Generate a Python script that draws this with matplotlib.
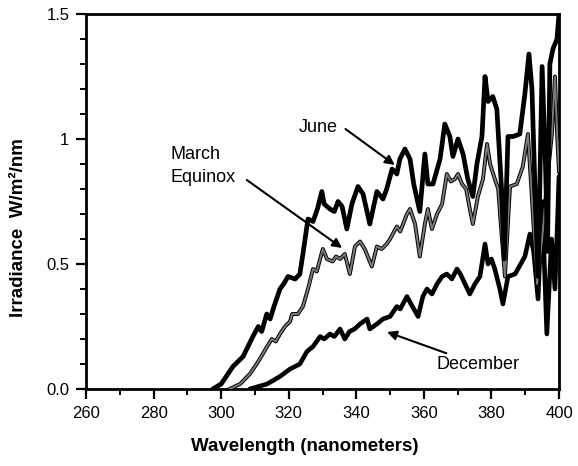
import matplotlib
matplotlib.use("Agg")
import matplotlib.pyplot as plt
from matplotlib.ticker import MultipleLocator, FixedLocator, FixedFormatter

plt.rcParams['font.family'] = ['Liberation Sans', 'DejaVu Sans']

# ---- data ----
june_wl = [297.5, 300, 303.5, 306.5, 309.4, 311, 312, 313.5, 314.5, 315.4, 317.4, 318.5,
           319.8, 321.9, 323.3, 324.2, 325.7, 327.2, 328.5, 329.8, 330.5, 332.2, 333.5,
           334.6, 335.8, 337.2, 338.7, 340.5, 342, 344, 346.1, 347.9, 349, 350.6, 352,
           352.9, 354.4, 355.9, 357, 358.8, 360.3, 361.2, 362.7, 364.8, 366.2, 367.7,
           368.6, 370.1, 371.6, 373, 374.5, 375.7, 377.2, 378.1, 379, 380.4, 381.6, 383,
           383.8, 384.9, 386.4, 388.4, 389.9, 391.1, 392, 393, 393.8, 395, 396, 396.6,
           397.3, 398.2, 399.4, 400]
june_irr = [0.0, 0.02, 0.09, 0.13, 0.21, 0.25, 0.23, 0.30, 0.28, 0.32, 0.40, 0.42,
            0.45, 0.44, 0.46, 0.54, 0.68, 0.67, 0.72, 0.79, 0.74, 0.72, 0.71,
            0.75, 0.73, 0.64, 0.74, 0.81, 0.78, 0.66, 0.79, 0.76, 0.80, 0.88, 0.86,
            0.92, 0.96, 0.92, 0.82, 0.71, 0.94, 0.82, 0.82, 0.92, 1.06, 1.01,
            0.93, 1.00, 0.94, 0.84, 0.77, 0.90, 1.01, 1.25, 1.15, 1.17, 1.12, 0.80,
            0.52, 1.01, 1.01, 1.02, 1.18, 1.34, 1.20, 0.75, 0.45, 1.29, 0.90, 0.55,
            1.30, 1.36, 1.40, 1.50]

march_wl = [302.5, 305.6, 308.5, 311, 313.6, 315, 316.2, 317.4, 318.9, 320.4, 321, 322.7,
            324.2, 325.7, 327.2, 328.3, 329.3, 330.1, 331.3, 333, 334, 335.2, 336.6,
            338.1, 339.6, 341.1, 342.5, 344.6, 346.1, 347.5, 349, 350, 352, 353, 355,
            355.9, 357.4, 358.8, 360.3, 361.2, 362.4, 363.9, 365.4, 366.8, 368, 369.2,
            370.1, 371.3, 372.5, 373.6, 374.5, 376, 377.5, 378.7, 379.6, 381, 382, 383,
            384, 385.5, 387.5, 389.3, 390.8, 392, 393.5, 395, 396.4, 397.9, 398.8, 399.5,
            400]
march_irr = [0.0, 0.02, 0.06, 0.11, 0.17, 0.20, 0.19, 0.22, 0.25, 0.27, 0.30, 0.30,
             0.33, 0.40, 0.48, 0.47, 0.52, 0.56, 0.52, 0.51, 0.53, 0.52, 0.54,
             0.46, 0.57, 0.59, 0.56, 0.49, 0.57, 0.56, 0.58, 0.60, 0.65, 0.63, 0.70,
             0.72, 0.66, 0.53, 0.66, 0.72, 0.64, 0.70, 0.74, 0.86, 0.83, 0.84,
             0.86, 0.82, 0.80, 0.72, 0.66, 0.77, 0.84, 0.98, 0.90, 0.84, 0.80, 0.62,
             0.45, 0.81, 0.82, 0.89, 1.02, 0.76, 0.42, 0.60, 0.82, 1.02, 1.25, 1.00,
             0.87]

dec_wl = [308.5, 311, 313.6, 317.4, 320.4, 323.3, 325.4, 327.2, 329.3, 330.5, 332.2,
          333.5, 335.2, 336.6, 338, 339.5, 341.1, 343.2, 344, 346.1, 347.9, 350, 352,
          353, 355, 356.2, 358.3, 359.7, 360.9, 362.4, 363.9, 365.4, 366.8, 368.3,
          369.8, 370.8, 372.2, 373.6, 375.1, 376.6, 378.1, 379, 380, 381, 382.5, 383.4,
          384.9, 387, 389.9, 391.4, 392.5, 393.8, 395, 396.4, 397.8, 398.8, 399.5, 400]
dec_irr = [0.0, 0.01, 0.02, 0.05, 0.08, 0.10, 0.15, 0.17, 0.21, 0.20, 0.22,
           0.21, 0.24, 0.20, 0.23, 0.24, 0.26, 0.28, 0.24, 0.26, 0.28, 0.29, 0.33,
           0.32, 0.37, 0.34, 0.29, 0.37, 0.40, 0.38, 0.42, 0.45, 0.46, 0.44,
           0.48, 0.46, 0.42, 0.38, 0.42, 0.45, 0.58, 0.50, 0.52, 0.48, 0.40, 0.34,
           0.45, 0.46, 0.53, 0.62, 0.55, 0.36, 0.75, 0.22, 0.60, 0.40, 0.65, 0.85]

x_ticks = [260, 280, 300, 320, 340, 360, 380, 400]
y_ticks = [0.0, 0.5, 1.0, 1.5]
y_tick_labels = ["0.0", "0.5", "1", "1.5"]

# ---- figure ----
fig = plt.figure(figsize=(5.78, 4.66), dpi=100)
ax = fig.add_axes([86/578, 1-389/466, (559-86)/578, (389-14)/466])

ax.plot(dec_wl, dec_irr, color='black', lw=3.3, solid_joinstyle='round',
        solid_capstyle='round', zorder=3)
ax.plot(march_wl, march_irr, color='black', lw=2.8, solid_joinstyle='round', zorder=4)
ax.plot(march_wl, march_irr, color='#7a7a7a', lw=1.4, solid_joinstyle='round', zorder=5)
ax.plot(june_wl, june_irr, color='black', lw=3.4, solid_joinstyle='round',
        solid_capstyle='round', zorder=6)

ax.set_xlim(260, 400)
ax.set_ylim(0, 1.5)
ax.xaxis.set_major_locator(FixedLocator(x_ticks))
ax.xaxis.set_minor_locator(MultipleLocator(10))
ax.yaxis.set_major_locator(FixedLocator(y_ticks))
ax.yaxis.set_major_formatter(FixedFormatter(y_tick_labels))
ax.yaxis.set_minor_locator(MultipleLocator(0.1))

for s in ax.spines.values():
    s.set_linewidth(2.0)
ax.tick_params(which='major', direction='out', length=7, width=1.6, labelsize=12, pad=5)
ax.tick_params(which='minor', direction='out', length=4, width=1.4)

ax.set_xlabel("Wavelength (nanometers)", fontsize=13.5, fontweight='bold')
ax.xaxis.set_label_coords((305-86)/473, -0.13)
ax.set_ylabel("Irradiance  W/m²/nm", fontsize=13.5, fontweight='bold')
ax.yaxis.set_label_coords(-0.125, 0.43)

arrow = dict(arrowstyle='-|>', color='black', lw=1.5, mutation_scale=14,
             shrinkA=0, shrinkB=0)
ax.text(334.6, 1.044, "June", fontsize=13, ha='right', va='center')
ax.annotate("", xy=(351.4, 0.896), xytext=(336.8, 1.040), arrowprops=arrow)
ax.annotate("", xy=(335.8, 0.564), xytext=(307.6, 0.836), arrowprops=arrow)
ax.text(284.9, 0.892, "March\nEquinox", fontsize=13, ha='left', va='center',
        linespacing=1.4)
ax.annotate("December", xy=(349.1, 0.228), xytext=(363.7, 0.098), fontsize=13,
            ha='left', va='center', arrowprops=arrow)

fig.savefig("out.png", dpi=100)
